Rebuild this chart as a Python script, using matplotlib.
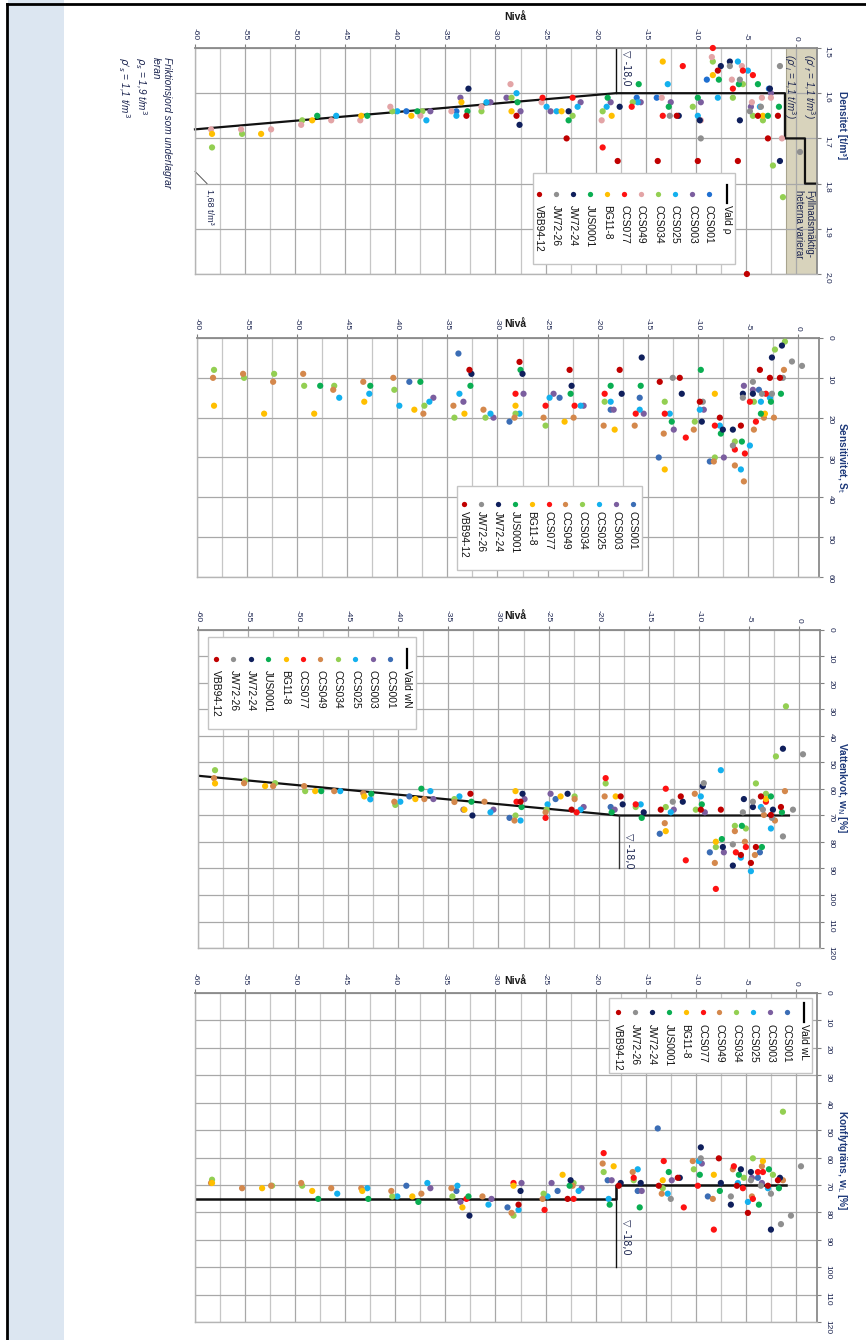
import numpy as np
import matplotlib.pyplot as plt
from matplotlib.lines import Line2D
from matplotlib.patches import Rectangle

plt.rcParams['font.family'] = ['Liberation Sans', 'DejaVu Sans']

W, H = 866, 1340

serier = ['CCS001', 'CCS003', 'CCS025', 'CCS034', 'CCS049', 'CCS077',
          'BG11-8', 'JUS0001', 'JW72-24', 'JW72-26', 'VBB94-12']
farger = ['#3b6db5', '#7b5e9f', '#13b0ee', '#93cf52', '#d4884c', '#fe1212',
          '#ffbf00', '#0aae52', '#0f1f5c', '#8f8f8f', '#c00000']
# i densitetsdiagrammet ar CCS001 klarare bla och CCS049 rosa
farger_dens = ['#1f6fd0', '#7b5e9f', '#13b0ee', '#93cf52', '#e3a4a6', '#fe1212',
               '#ffbf00', '#0aae52', '#0f1f5c', '#8f8f8f', '#c00000']

# ---- Densitet [t/m3] ----
dens_niva = [
    [-38.9, -33.9, -15.9, -13.9, -8.9, -2.7],
    [-36.5, -33.5, -30.5, -28.9, -27.5, -24.5, -21.5, -18.5, -15.5, -12.5, -9.5, -4.5, -2.5],
    [-45.9, -39.8, -36.9, -33.9, -30.9, -27.9, -24.9, -23.9, -21.8, -18.9, -15.8, -12.8, -9.8, -7.8, -5.8, -4.8, -3.6],
    [-58.3, -55.3, -49.3, -40.3, -37.3, -31.4, -28.4, -22.3, -19.3, -16.3, -10.3, -8.3, -6.3, -5.3, -4.3, -3.3, -2.3, -1.3],
    [-58.4, -55.4, -52.4, -49.4, -46.4, -43.5, -40.5, -37.5, -34.4, -31.4, -28.5, -25.4, -19.4, -13.4, -9.5, -8.4, -6.4, -5.4, -4.4, -3.4, -2.5, -1.4],
    [-25.3, -22.3, -19.3, -16.4, -13.3, -11.3, -8.3, -6.3, -5.3, -4.3],
    [-58.3, -53.4, -48.3, -43.4, -38.4, -33.4, -28.4, -23.4, -18.4, -13.3, -8.3, -3.3],
    [-47.8, -42.8, -37.8, -32.8, -27.8, -22.7, -18.8, -15.7, -12.7, -9.8, -7.7, -5.7, -3.8, -2.8, -1.7],
    [-32.7, -27.6, -22.7, -17.6, -11.7, -9.6, -7.5, -6.6, -5.6, -2.6, -1.6],
    [-12.6, -9.5, -6.6, -5.6, -4.6, -3.5, -1.6, 0.4],
    [-32.9, -27.9, -22.9, -17.8, -13.8, -11.9, -9.8, -7.8, -5.8, -4.9, -3.8, -2.8, -1.8],
]
dens_rho = [
    [1.64, 1.64, 1.61, 1.61, 1.57, 1.59],
    [1.64, 1.61, 1.62, 1.61, 1.64, 1.64, 1.62, 1.62, 1.62, 1.62, 1.62, 1.63, 1.60],
    [1.65, 1.64, 1.66, 1.65, 1.62, 1.60, 1.63, 1.64, 1.63, 1.63, 1.62, 1.58, 1.65, 1.61, 1.53, 1.55, 1.63],
    [1.72, 1.69, 1.66, 1.64, 1.64, 1.64, 1.61, 1.65, 1.64, 1.62, 1.63, 1.53, 1.61, 1.58, 1.65, 1.66, 1.76, 1.83],
    [1.68, 1.68, 1.68, 1.67, 1.66, 1.66, 1.63, 1.65, 1.64, 1.63, 1.58, 1.62, 1.66, 1.61, 1.66, 1.52, 1.57, 1.54, 1.62, 1.61, 1.61, 1.70],
    [1.61, 1.61, 1.72, 1.63, 1.65, 1.54, 1.50, 1.59, 1.55, 1.56],
    [1.69, 1.69, 1.66, 1.65, 1.65, 1.62, 1.64, 1.64, 1.65, 1.53, 1.56, 1.65],
    [1.65, 1.65, 1.64, 1.64, 1.62, 1.66, 1.61, 1.58, 1.63, 1.61, 1.57, 1.58, 1.58, 1.65, 1.63],
    [1.59, 1.67, 1.64, 1.63, 1.65, 1.66, 1.54, 1.53, 1.66, 1.59, 1.75],
    [1.65, 1.70, 1.54, 1.57, 1.64, 1.63, 1.54, 1.73],
    [1.65, 1.65, 1.70, 1.75, 1.75, 1.65, 1.75, 1.55, 1.75, 2.00, 1.65, 1.70, 1.65],
]
vald_rho_niva = [-60, -18, -1.1, -1.1, 0.9, 0.9, 2.1]
vald_rho = [1.68, 1.60, 1.60, 1.70, 1.70, 1.80, 1.80]

# ---- Sensitivitet, St ----
sens_niva = [
    [-38.8, -33.9, -28.8, -23.8, -18.7, -15.8, -13.9, -8.8, -3.9],
    [-36.4, -33.4, -30.4, -27.4, -24.4, -21.4, -18.4, -15.4, -12.4, -9.4, -7.4, -5.4, -4.5],
    [-45.8, -42.8, -39.8, -36.8, -33.8, -30.7, -27.8, -24.8, -21.7, -18.7, -15.8, -12.8, -9.8, -7.8, -5.7, -4.8, -3.7, -2.8],
    [-58.3, -55.3, -52.3, -49.3, -46.3, -40.3, -37.3, -34.3, -31.2, -28.2, -25.2, -19.3, -13.3, -10.3, -8.3, -6.3, -4.4, -2.3, -1.3],
    [-58.4, -55.4, -52.4, -49.4, -46.4, -43.4, -40.4, -37.4, -34.4, -31.4, -28.3, -25.4, -22.4, -19.4, -16.3, -13.4, -10.4, -8.4, -6.3, -5.4, -4.4, -3.4, -2.4, -1.4],
    [-28.2, -25.2, -22.3, -19.3, -16.2, -13.3, -11.2, -8.3, -6.3, -5.3, -4.8, -4.2, -3.2],
    [-58.3, -53.3, -48.3, -43.3, -38.3, -33.3, -28.2, -23.3, -18.3, -13.3, -8.3, -3.3],
    [-47.7, -42.7, -37.7, -32.7, -27.7, -22.7, -18.7, -15.7, -12.6, -9.7, -7.7, -5.6, -3.7, -2.7, -1.7],
    [-32.6, -27.5, -22.6, -17.6, -15.6, -11.6, -9.6, -7.5, -6.5, -5.5, -4.5, -2.6, -1.6],
    [-12.5, -9.5, -6.5, -5.5, -4.5, -3.6, -2.6, -1.5, -0.6, 0.4],
    [-32.8, -27.8, -22.8, -17.8, -13.8, -11.8, -9.8, -7.8, -5.7, -3.8, -2.8, -1.8],
]
sens_st = [
    [11, 3.9, 21, 15, 18, 15, 30, 31, 13],
    [15, 16, 20, 14, 14, 17, 18, 19, 23, 18, 30, 12, 13],
    [15, 14, 17, 16, 14, 19, 19, 15, 17, 16, 18, 19, 18, 22, 33, 27, 16, 15],
    [8, 10, 9, 12, 12, 13, 17, 20, 20, 19, 22, 16, 16, 21, 30, 26, 16, 2.9, 0.9],
    [10, 9, 11, 9, 13, 11, 10, 19, 17, 18, 20, 20, 20, 22, 22, 24, 23, 31, 32, 36, 23, 20, 20, 8],
    [14, 17, 17, 14, 19, 19, 25, 22, 28, 29, 16, 21, 14],
    [17, 19, 19, 16, 18, 19, 17, 21, 23, 33, 14, 19],
    [12, 12, 11, 12, 8, 14, 12, 12, 21, 8, 24, 26, 19, 16, 14],
    [9, 9, 12, 14, 4.9, 14, 21, 23, 23, 14, 14, 4.9, 1.9],
    [10, 16, 27, 15, 11, 14, 14, 10, 5.9, 7],
    [8, 6, 8, 8, 11, 10, 16, 20, 22, 8, 10, 10],
]

# ---- Vattenkvot, wN [%] ----
wn_niva = [
    [-38.9, -28.9, -24.3, -18.8, -13.9, -8.9, -3.9],
    [-36.5, -33.5, -30.5, -27.4, -24.8, -21.5, -18.4, -12.5, -9.4, -7.5],
    [-45.8, -42.8, -39.8, -36.8, -33.9, -30.8, -27.8, -25.1, -21.8, -15.8, -12.8, -9.8, -7.8, -5.8, -4.8, -3.8, -2.8],
    [-58.3, -55.3, -52.3, -49.3, -40.3, -34.4, -28.3, -25.2, -22.4, -19.3, -16.3, -13.3, -10.3, -8.3, -6.4, -5.3, -4.3, -3.3, -2.3, -1.3],
    [-58.4, -55.4, -52.5, -49.4, -46.4, -43.5, -40.4, -37.4, -34.4, -31.4, -28.4, -25.3, -22.4, -19.4, -13.4, -10.4, -8.4, -6.4, -5.4, -4.4, -3.5, -2.4, -1.4],
    [-28.2, -25.3, -22.2, -19.3, -16.3, -13.3, -11.3, -8.3, -6.3, -5.3, -3.3],
    [-58.3, -53.3, -48.3, -43.4, -38.3, -33.4, -28.3, -23.8, -18.3, -13.3, -8.3, -3.3],
    [-47.7, -42.7, -37.7, -32.7, -27.7, -18.7, -15.7, -9.7, -7.7, -5.7, -3.7, -2.8, -1.7],
    [-32.6, -27.6, -23.1, -17.6, -15.5, -11.6, -9.6, -7.6, -6.6, -5.5, -4.6, -2.6, -1.6],
    [-12.6, -9.5, -6.6, -5.6, -4.6, -3.6, -2.7, -1.6, -0.6, 0.4],
    [-32.8, -27.8, -22.7, -17.8, -13.8, -11.8, -9.8, -7.8, -5.8, -4.8, -4.3, -3.8, -2.8, -1.8],
]
wn_val = [
    [62.8, 70.9, 63.8, 66.8, 76.9, 83.9, 83.9],
    [63.8, 67.8, 67.8, 63.8, 61.8, 66.8, 67.8, 67.8, 68.8, 83.9],
    [60.8, 63.9, 64.8, 60.8, 62.8, 68.8, 71.9, 65.8, 67.8, 65.8, 68.8, 62.8, 52.9, 85.9, 91.0, 66.8, 74.9],
    [52.9, 56.8, 57.8, 60.8, 66.0, 63.8, 70.0, 67.8, 62.8, 57.9, 66.8, 66.8, 67.8, 81.9, 73.9, 74.9, 57.9, 61.8, 47.7, 28.8],
    [55.9, 57.8, 58.9, 58.9, 60.8, 61.6, 64.8, 63.8, 64.9, 64.8, 71.9, 68.8, 63.8, 62.8, 72.9, 61.8, 87.9, 75.9, 79.9, 84.9, 69.8, 71.9, 60.8],
    [64.8, 70.9, 68.8, 55.9, 65.8, 59.9, 86.9, 97.7, 83.9, 81.9, 64.8],
    [57.9, 58.9, 60.8, 62.8, 63.8, 67.8, 60.8, 62.8, 62.8, 75.9, 79.9, 63.8],
    [60.8, 61.8, 59.9, 64.8, 66.8, 68.8, 70.9, 65.8, 78.9, 73.9, 81.9, 62.8, 68.8],
    [70.0, 61.8, 61.8, 65.8, 68.8, 64.8, 58.9, 81.9, 88.9, 63.8, 66.8, 67.8, 44.8],
    [64.8, 57.8, 80.9, 68.8, 64.8, 67.8, 70.9, 77.9, 67.8, 46.9],
    [61.8, 64.8, 67.8, 62.8, 67.8, 62.8, 67.8, 67.8, 84.9, 87.9, 81.9, 62.8, 69.8, 66.8],
]
vald_wn_niva = [-60, -18, -1.0]
vald_wn = [55, 70, 70]

# ---- Konflytgrans, wL [%] ----
wl_niva = [
    [-38.9, -33.9, -28.8, -23.8, -18.8, -15.8, -13.8, -8.8, -3.8],
    [-36.5, -33.5, -30.4, -27.4, -24.4, -21.4, -18.4, -15.4, -12.4, -9.4, -4.4, -3.4],
    [-45.8, -42.8, -39.8, -36.8, -33.8, -30.7, -27.7, -24.8, -21.7, -18.7, -15.8, -12.8, -9.7, -5.8, -4.8, -2.8],
    [-58.3, -52.3, -49.3, -40.3, -34.3, -28.2, -25.2, -22.2, -19.2, -16.2, -13.3, -10.2, -5.2, -4.3, -2.3, -1.3],
    [-58.4, -55.3, -52.4, -49.4, -46.4, -43.4, -40.4, -37.4, -34.4, -31.3, -28.4, -25.3, -22.3, -19.3, -16.3, -13.4, -10.3, -8.3, -6.3, -4.4, -3.4, -1.3],
    [-32.9, -28.2, -25.1, -22.2, -19.2, -16.2, -13.2, -11.2, -9.8, -8.2, -6.2, -5.3, -4.3, -3.8, -3.3],
    [-58.3, -53.3, -48.3, -43.3, -38.3, -33.3, -28.2, -23.3, -18.2, -13.3, -8.2, -3.3],
    [-47.7, -42.7, -37.7, -32.7, -22.6, -18.6, -15.6, -12.7, -9.6, -7.6, -5.7, -3.7, -2.7, -1.7],
    [-32.6, -27.5, -22.5, -17.5, -15.5, -11.6, -9.5, -7.5, -6.5, -5.5, -4.5, -2.5, -1.6],
    [-12.5, -9.5, -6.5, -4.5, -3.5, -2.5, -1.5, -0.5, 0.5],
    [-27.7, -22.8, -17.7, -13.7, -11.8, -7.7, -5.9, -4.8, -2.8, -1.8],
]
wl_val = [
    [70.3, 72.2, 78.2, 72.2, 68.3, 72.2, 49.4, 74.2, 67.4],
    [71.2, 76.2, 75.1, 69.3, 69.3, 71.2, 68.3, 72.2, 68.3, 62.2, 67.4, 69.3],
    [73.2, 71.2, 74.2, 69.3, 70.3, 77.2, 79.1, 74.2, 72.2, 75.1, 64.3, 73.2, 61.3, 69.3, 76.2, 71.2],
    [68.1, 70.3, 70.3, 74.2, 74.2, 81.2, 73.2, 69.3, 65.3, 68.3, 71.2, 64.3, 67.4, 60.3, 66.3, 43.3],
    [69.3, 71.2, 70.3, 69.3, 71.2, 71.2, 72.2, 73.2, 71.2, 74.2, 80.2, 75.1, 70.3, 62.2, 65.3, 73.2, 61.3, 75.1, 64.3, 74.2, 63.2, 68.3],
    [75.1, 69.3, 79.1, 75.1, 58.4, 67.4, 61.3, 78.2, 70.3, 86.3, 63.2, 71.2, 75.1, 65.3, 65.3],
    [69.3, 71.2, 72.2, 72.2, 74.2, 78.2, 70.3, 66.3, 63.2, 68.3, 66.3, 61.3],
    [75.1, 75.1, 76.2, 74.2, 70.3, 77.2, 78.2, 65.3, 66.3, 72.2, 66.3, 77.2, 64.3, 71.2],
    [81.2, 72.2, 68.3, 69.3, 69.3, 67.4, 56.3, 69.3, 77.2, 64.3, 65.3, 86.3, 67.4],
    [75.1, 60.3, 74.2, 68.3, 70.3, 73.2, 84.3, 81.2, 63.2],
    [77.2, 75.1, 70.3, 70.3, 67.4, 60.3, 70.3, 80.2, 70.3, 68.3],
]
vald_wl_niva = [-60, -18, -18, -1.0]
vald_wl = [75, 75, 70, 70]

niva_ticks = list(range(-60, 1, 5))

fig = plt.figure(figsize=(W / 100, H / 100), dpi=100)
fig.patch.set_facecolor('white')


def fx(x):
    return x / W


def fy(y):
    return 1 - y / H


# sidkant och bla marginal
fig.add_artist(Rectangle((fx(8), 0), fx(56), 1, transform=fig.transFigure,
                         fc='#dce6f1', ec='none', zorder=0))
fig.add_artist(Line2D([fx(7), fx(7)], [0, fy(4)], transform=fig.transFigure, color='black', lw=2))
fig.add_artist(Line2D([fx(7), 1], [fy(4), fy(4)], transform=fig.transFigure, color='black', lw=2))

tickfarg = '#1c2550'
titelfarg = '#1f3a7a'


def panel(left, right, top, bottom, ymax, yticks, ylabels, titel, ty, nivay):
    ax = fig.add_axes([fx(left), fy(bottom), fx(right - left), (bottom - top) / H])
    ax.set_xlim(-60, 2.1)
    ax.set_ylim(ymax, yticks[0])
    ax.xaxis.tick_top()
    ax.yaxis.tick_right()
    ax.set_xticks(niva_ticks)
    ax.set_xticklabels([str(v) for v in niva_ticks])
    ax.set_xticks(np.arange(-57.5, 0, 5), minor=True)
    ax.set_yticks(yticks)
    ax.set_yticklabels(ylabels)
    ax.tick_params(which='major', length=3, pad=2.5, labelsize=6, color='#808080',
                   labelcolor=tickfarg)
    ax.tick_params(axis='x', labelrotation=-90)
    ax.tick_params(axis='y', labelrotation=-90)
    ax.tick_params(which='minor', length=0)
    ax.set_axisbelow(True)
    ax.grid(True, which='major', color='#a8a8a8', lw=0.9)
    ax.grid(True, which='minor', axis='x', color='#c6c6c6', lw=0.9)
    for s in ['top', 'right']:
        ax.spines[s].set_color('#8a8a8a')
        ax.spines[s].set_linewidth(1.3)
    for s in ['left', 'bottom']:
        ax.spines[s].set_color('#b5b5b5')
        ax.spines[s].set_linewidth(1.0)
    fig.text(fx(842), fy(ty), titel, rotation=-90, ha='center', va='center',
             fontsize=7.3, fontweight='bold', color=titelfarg)
    fig.text(fx(515), fy(nivay), 'Nivå', ha='center', va='center', fontsize=7.5,
             fontweight='bold', color='#1a1a1a')
    return ax


def punkter(ax, niva, varden, palett):
    for i in range(len(serier)):
        ax.scatter(niva[i], varden[i], s=20, color=palett[i], edgecolors='none',
                   zorder=3, clip_on=False)


def legend(box, xs, dx, ym, yt, palett, vald=None):
    x0, y0, x1, y1 = box
    fig.add_artist(Rectangle((fx(x0), fy(y1)), fx(x1 - x0), (y1 - y0) / H,
                             transform=fig.transFigure, fc='white', ec='#c4c4c4',
                             lw=1, zorder=5))
    if vald is not None:
        vx, vy0, vy1, vtxt = vald
        fig.add_artist(Line2D([fx(vx), fx(vx)], [fy(vy0), fy(vy1)],
                              transform=fig.transFigure, color='black', lw=1.6, zorder=6))
        fig.text(fx(vx), fy(yt), vtxt, rotation=-90, ha='center', va='top',
                 fontsize=7.4, color='#111111', zorder=7)
    for i, namn in enumerate(serier):
        x = xs - dx * i
        fig.add_artist(Line2D([fx(x)], [fy(ym)], transform=fig.transFigure, marker='o',
                              ms=3.8, mec='none', color=palett[i], ls='none', zorder=6))
        fig.text(fx(x), fy(yt), namn, rotation=-90, ha='center', va='top',
                 fontsize=7.4, color='#111111', zorder=7)


# ---------- Panel 1: Densitet ----------
ax1 = panel(195, 817, 48, 274, 2.0, [1.5, 1.6, 1.7, 1.8, 1.9, 2.0],
            ['1,5', '1,6', '1,7', '1,8', '1,9', '2,0'],
            'Densitet [t/m³]', 125, 17)
ax1.axvspan(-1.0, 2.1, color='#d8d3bc', zorder=0.3, lw=0)
ax1.axvline(-1.0, color='#a8a48e', lw=0.8, zorder=0.35)
ax1.plot(vald_rho_niva, vald_rho, color='#111111', lw=1.6, zorder=2.5, clip_on=False)
ax1.plot([-18, -18], [1.5, vald_rho[1]], color='#111111', lw=1, zorder=2.5)
ax1.text(-17.5, 1.505, '▽ -18,0', rotation=-90, ha='left', va='top', fontsize=7,
         color='#1c2550', family=['DejaVu Sans'])
punkter(ax1, dens_niva, dens_rho, farger_dens)
ax1.plot([-60, -58.8], [1.773, 1.80], color='#555555', lw=0.7, clip_on=False, zorder=2)
ax1.text(-58.5, 1.812, '1,68 t/m³', rotation=-90, ha='center', va='top', fontsize=6.5,
         color='#1c2550')
fig.text(fx(809), fy(54), r"($\rho'_f$ = 1,1 t/m$^3$)", rotation=-90, ha='center', va='top',
         fontsize=7, style='italic', color='#1c2550')
fig.text(fx(790), fy(54), r"($\rho'_i$ = 1,1 t/m$^3$)", rotation=-90, ha='center', va='top',
         fontsize=7, style='italic', color='#1c2550')
fig.text(fx(804), fy(190), 'Fyllnadsmäktig-\nheterna varierar', rotation=-90, ha='center',
         va='top', fontsize=7, color='#1c2550', linespacing=1.0, multialignment='left')
fig.text(fx(172), fy(57),
         'Friktionsjord som underlagrar\nleran\n' + r'$\rho_s$ = 1,9 t/m$^3$' + '\n'
         + r"$\rho'_s$ = 1,1 t/m$^3$",
         rotation=-90, ha='right', va='top', fontsize=7.2, style='italic', color='#1c2550',
         linespacing=1.15, multialignment='left')
legend((533, 173, 735, 264), 709, 17, 194, 205, farger_dens, vald=(727, 185, 203, 'Vald ρ'))

# ---------- Panel 2: Sensitivitet ----------
ax2 = panel(197, 819, 338, 577, 60, [0, 10, 20, 30, 40, 50, 60],
            ['0', '10', '20', '30', '40', '50', '60'],
            r'Sensitivitet, S$_\mathrm{t}$', 458, 324)
punkter(ax2, sens_niva, sens_st, farger)
legend((457, 486, 642, 570), 633, 16.9, 504, 511, farger)

# ---------- Panel 3: Vattenkvot ----------
yt120 = list(range(0, 121, 10))
ax3 = panel(198, 820, 630, 948, 120, yt120, [str(v) for v in yt120],
            r'Vattenkvot, w$_\mathrm{N}$ [%]', 787, 616)
ax3.plot(vald_wn_niva, vald_wn, color='#111111', lw=1.6, zorder=2.5)
ax3.plot([-18, -18], [vald_wn[1], 90], color='#333333', lw=1, zorder=2.5)
ax3.text(-17.5, 76.5, '▽ -18,0', rotation=-90, ha='left', va='top', fontsize=7,
         color='#1c2550', family=['DejaVu Sans'])
punkter(ax3, wn_niva, wn_val, farger)
legend((208, 637, 416, 729), 390, 17.4, 659, 670, farger, vald=(407, 649, 668, 'Vald wN'))

# ---------- Panel 4: Konflytgrans ----------
ax4 = panel(195, 817, 993, 1322, 120, yt120, [str(v) for v in yt120],
            r'Konflytgräns, w$_\mathrm{L}$ [%]', 1160, 981)
ax4.plot(vald_wl_niva, vald_wl, color='#111111', lw=1.8, zorder=2.5)
ax4.plot([-18, -18], [vald_wl[2], 100], color='#111111', lw=1, zorder=2.5)
ax4.text(-17.5, 82.5, '▽ -18,0', rotation=-90, ha='left', va='top', fontsize=7,
         color='#1c2550', family=['DejaVu Sans'])
punkter(ax4, wl_niva, wl_val, farger)
legend((609, 998, 812, 1073), 787, 16.9, 1012, 1024, farger, vald=(804, 1003, 1022, 'Vald wL'))

fig.savefig('out.png', dpi=100, facecolor='white')
